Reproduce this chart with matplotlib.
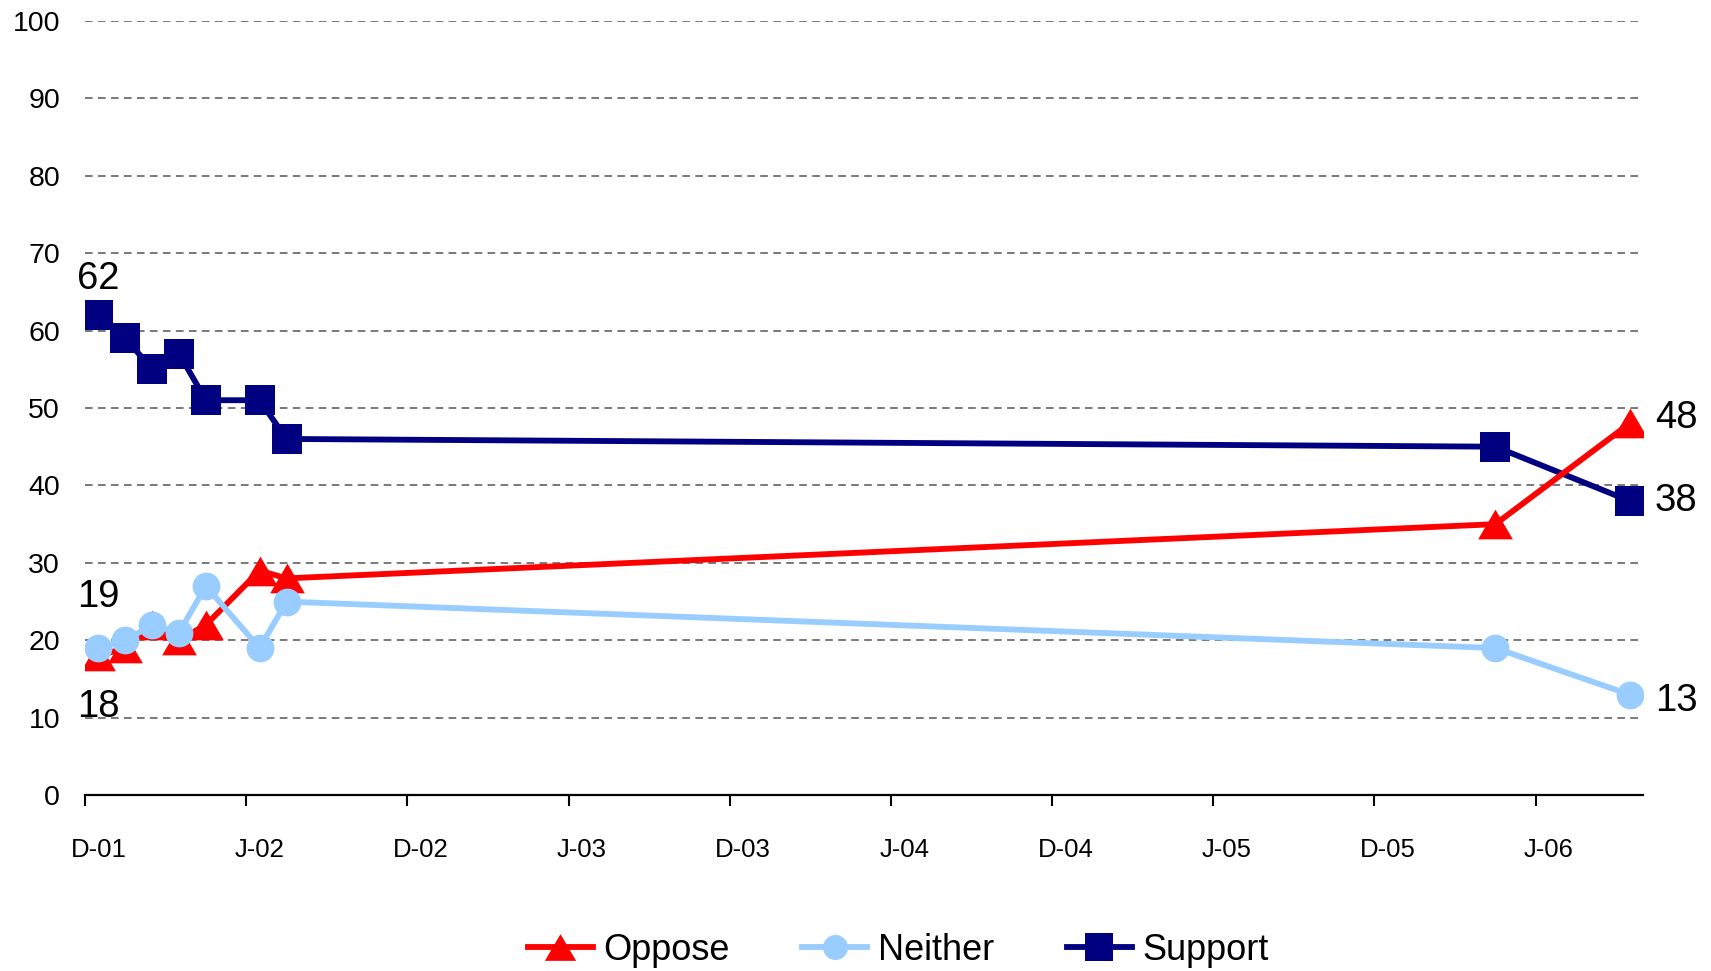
import numpy as np
import matplotlib
matplotlib.use('Agg')
import matplotlib.pyplot as plt
import pandas as pd

plt.rcParams['font.family'] = ['Liberation Sans', 'DejaVu Sans']

# survey dates and shares (%)
survey_months = ['2001-12', '2002-01', '2002-02', '2002-03', '2002-04',
                 '2002-06', '2002-07', '2006-04', '2006-09']
oppose  = [18, 19, 22, 20, 22, 29, 28, 35, 48]
neither = [19, 20, 22, 21, 27, 19, 25, 19, 13]
support = [62, 59, 55, 57, 51, 51, 46, 45, 38]

tick_labels = ['D-01', 'J-02', 'D-02', 'J-03', 'D-03', 'J-04', 'D-04', 'J-05', 'D-05', 'J-06']

# month index, Dec 2001 = 0
start = pd.Period('2001-12', freq='M')
x = np.array([(pd.Period(m, freq='M') - start).n for m in survey_months])

c_opp = '#FF0000'
c_nei = '#99CCFF'
c_sup = '#000080'

fig = plt.figure(figsize=(17.11, 9.71), dpi=100)
ax = fig.add_axes([0.0497, 0.181, 0.9106, 0.7977])

tri = [(-1.17, -1.0), (1.17, -1.0), (0.0, 1.0), (-1.17, -1.0)]

l_sup, = ax.plot(x, support, color=c_sup, lw=4.2, marker='s', ms=22, mew=0, label='Support', zorder=3)
l_opp, = ax.plot(x, oppose, color=c_opp, lw=4.2, marker=tri, ms=25, mew=0, label='Oppose', zorder=4)
l_nei, = ax.plot(x, neither, color=c_nei, lw=4.2, marker='o', ms=20, mew=0, label='Neither', zorder=5)

ax.set_ylim(0, 100)
ax.set_xlim(-0.5, 57.5)
ax.set_yticks(np.arange(0, 101, 10))
ax.tick_params(axis='y', length=0, labelsize=20.5, pad=18)
ax.yaxis.grid(True, color='#555555', lw=1.1, linestyle=(0, (5, 3.5)))
ax.set_axisbelow(True)

ax.set_xticks(np.arange(-0.5, 57.5, 6))
ax.set_xticklabels([])
ax.set_xticks(np.arange(0, 57, 6), minor=True)
ax.set_xticklabels(tick_labels, minor=True)
ax.tick_params(axis='x', which='major', length=8, width=1.5, direction='out', color='black')
ax.tick_params(axis='x', which='minor', length=0, labelsize=18.5, pad=31)

for s in ['left', 'top', 'right']:
    ax.spines[s].set_visible(False)
ax.spines['bottom'].set_linewidth(1.6)

fs = 27.5
ax.annotate(str(support[0]), (x[0], support[0]), xytext=(0, 26), textcoords='offset points',
            ha='center', va='center', fontsize=fs, annotation_clip=False)
ax.annotate(str(neither[0]), (x[0], neither[0]), xytext=(0, 37), textcoords='offset points',
            ha='center', va='center', fontsize=fs, annotation_clip=False)
ax.annotate(str(oppose[0]), (x[0], oppose[0]), xytext=(0, -37), textcoords='offset points',
            ha='center', va='center', fontsize=fs, annotation_clip=False)
ax.annotate(str(oppose[-1]), (x[-1], oppose[-1]), xytext=(18, 4), textcoords='offset points',
            ha='left', va='center', fontsize=fs, annotation_clip=False)
ax.annotate(str(support[-1]), (x[-1], support[-1]), xytext=(18, 0), textcoords='offset points',
            ha='left', va='center', fontsize=fs, annotation_clip=False)
ax.annotate(str(neither[-1]), (x[-1], neither[-1]), xytext=(18, -5), textcoords='offset points',
            ha='left', va='center', fontsize=fs, annotation_clip=False)

fig.legend(handles=[l_opp, l_nei, l_sup], loc='lower center', bbox_to_anchor=(0.525, -0.03),
           ncol=3, frameon=False, fontsize=26, handlelength=1.8, handletextpad=0.3,
           columnspacing=2.0, markerscale=0.9)

fig.savefig('out.png', dpi=100)
